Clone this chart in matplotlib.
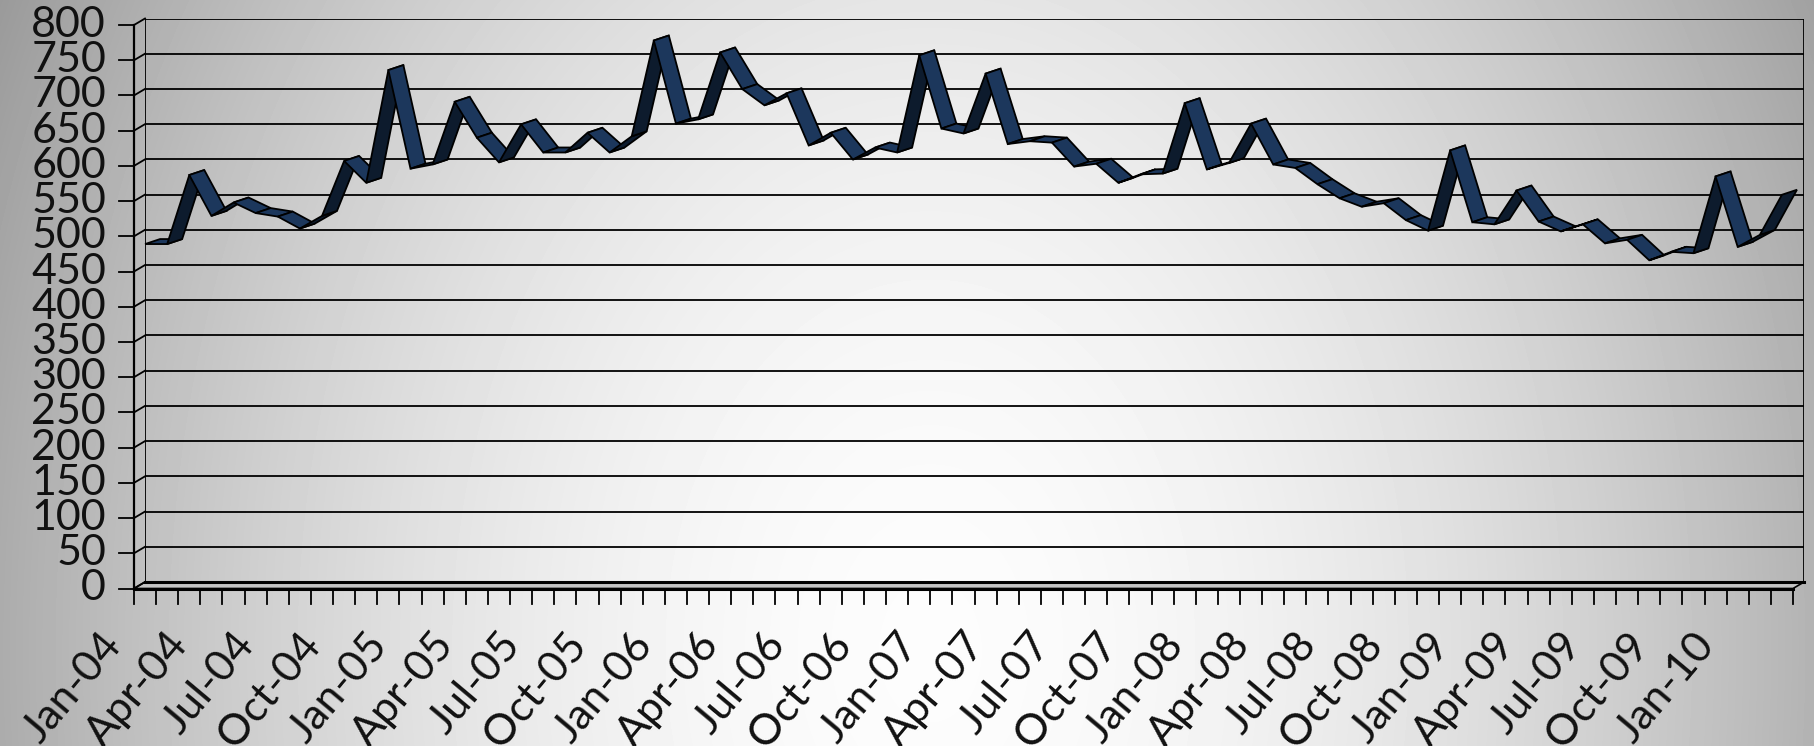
import numpy as np
import matplotlib
matplotlib.use("Agg")
import matplotlib.pyplot as plt
from matplotlib.transforms import Affine2D, IdentityTransform
from matplotlib.patches import Polygon

plt.rcParams["font.family"] = ["Lato", "DejaVu Sans"]

month_names = ["Jan", "Feb", "Mar", "Apr", "May", "Jun",
               "Jul", "Aug", "Sep", "Oct", "Nov", "Dec"]
years = ["04", "05", "06", "07", "08", "09", "10"]
months = [m + "-" + y for y in years for m in month_names][:75]  # Jan-04 .. Mar-10

values = [
    489, 489, 587, 529, 548, 533, 528, 511, 529, 607, 576, 736,  # 2004
    596, 602, 691, 640, 605, 659, 619, 619, 647, 619, 642, 778,  # 2005
    660, 666, 761, 709, 686, 703, 629, 647, 609, 626, 619, 757,  # 2006
    653, 646, 731, 631, 635, 633, 599, 603, 576, 588, 589, 689,  # 2007
    595, 604, 660, 602, 597, 574, 554, 542, 547, 523, 508, 622,  # 2008
    520, 517, 565, 521, 507, 517, 490, 495, 466, 478, 476, 585,  # 2009
    485, 502, 559,                                               # 2010
]
y_ticks = list(range(0, 801, 50))
label_step = 3

W, H = 1814, 746
fig = plt.figure(figsize=(W / 100, H / 100), dpi=100)

# radial grey background
bg = fig.add_axes([0, 0, 1, 1], zorder=-10)
yy, xx = np.mgrid[0:H, 0:W]
r = np.hypot((xx - 930) / 1000, (yy - 650) / 1400)
shade = np.clip(0.99 - 0.36 * r ** 1.8, 0, 1)
bg.imshow(shade, cmap="gray", vmin=0, vmax=1, aspect="auto", interpolation="bilinear")
bg.set_axis_off()

# back wall of the 3d box
left, right, top, bottom = 145, 1804, 18.5, 582
ax = fig.add_axes([left / W, 1 - bottom / H, (right - left) / W, (bottom - top) / H])
n = len(values)
ax.set_xlim(-0.5, n - 0.5)
ax.set_ylim(0, 800)
ax.set_axis_off()

depth = (-11, -6.5)  # front plane offset in pixels
idt = IdentityTransform()


def disp(x, y, dx=0.0, dy=0.0):
    p = ax.transData.transform((x, y))
    return p[0] + dx, p[1] + dy


def seg(p, q, **kw):
    ax.plot([p[0], q[0]], [p[1], q[1]], transform=idt, clip_on=False, **kw)


# floor
floor = [disp(-0.5, 0), disp(n - 0.5, 0), disp(n - 0.5, 0, *depth), disp(-0.5, 0, *depth)]
ax.add_patch(Polygon(floor, closed=True, facecolor="#c4c4c4", edgecolor="black",
                     lw=1.2, transform=idt, clip_on=False, zorder=1))
seg(floor[2], floor[3], color="black", lw=2.2, zorder=2)

# gridlines on back wall and side wall
ax.hlines(y_ticks[1:], -0.5, n - 0.5, color="black", lw=1.3, zorder=1)
seg(floor[0], floor[1], color="black", lw=2.2, zorder=2)
ax.vlines([-0.5, n - 0.5], 0, 800, color="black", lw=1.3, zorder=1)
for v in y_ticks:
    seg(disp(-0.5, v, *depth), disp(-0.5, v), color="black", lw=1.3)
    seg(disp(-0.5, v, depth[0] - 15, depth[1]), disp(-0.5, v, *depth), color="black", lw=1.3)
    ax.text(-0.5, v, str(v), transform=ax.transData + Affine2D().translate(depth[0] - 28, depth[1]),
            ha="right", va="center", fontsize=31, color="#111111", clip_on=False)
seg(disp(-0.5, 0, *depth), disp(-0.5, 800, *depth), color="black", lw=1.6)

# category ticks
for k in range(n + 1):
    p = disp(k - 0.5, 0, *depth)
    seg(p, (p[0], p[1] - 15), color="black", lw=1.3)

for i in range(0, n, label_step):
    ax.text(i, 0, months[i], transform=ax.transData + Affine2D().translate(-56, -44),
            rotation=50, rotation_mode="anchor", ha="right", va="top",
            fontsize=31, color="#111111", clip_on=False)

# 3d ribbon
front = [disp(i, v, -11, -6.5) for i, v in enumerate(values)]
back = [disp(i, v, 4, -1.5) for i, v in enumerate(values)]
ribbon_slope = 5.0 / 15.0
for i in range(n - 1):
    f1, f2, b1, b2 = front[i], front[i + 1], back[i], back[i + 1]
    slope = (f2[1] - f1[1]) / (f2[0] - f1[0])
    color = "#0d1b2d" if slope > ribbon_slope else "#1c375c"
    ax.add_patch(Polygon([f1, f2, b2, b1], closed=True, facecolor=color, edgecolor="black",
                         lw=1.3, joinstyle="miter", transform=idt, clip_on=False, zorder=3 + i * 0.01))

fig.savefig("out.png", dpi=100)
